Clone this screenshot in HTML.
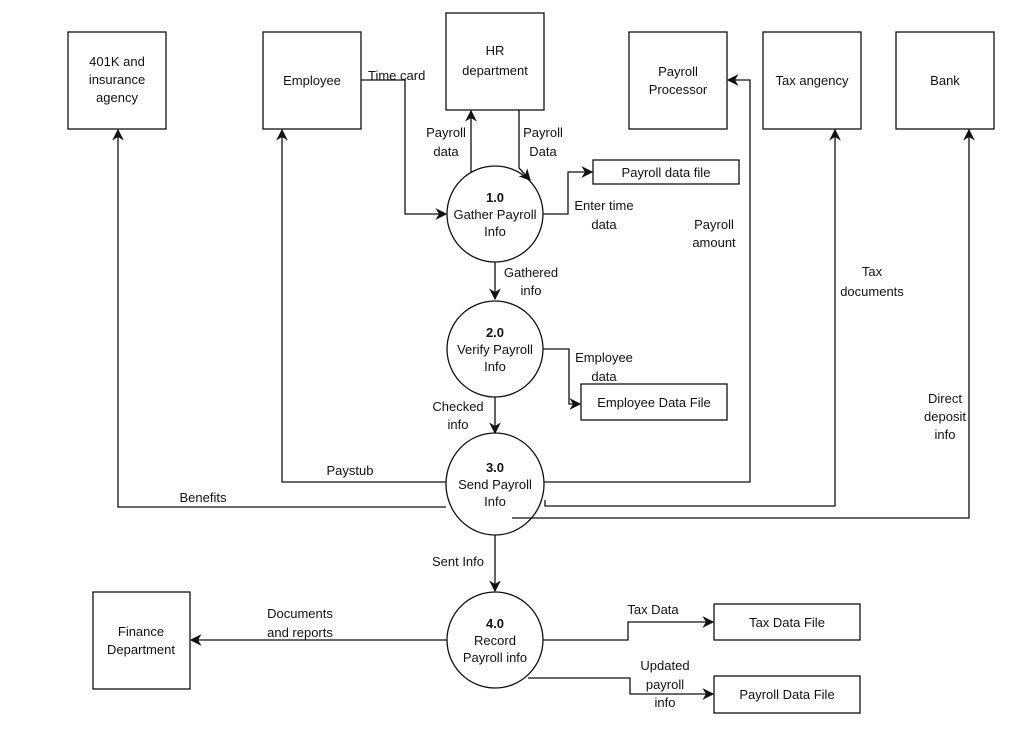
<!DOCTYPE html>
<html><head><style>
body{margin:0;background:#fff}
svg text{font-family:"Liberation Sans",sans-serif;font-size:13px;fill:#111}
</style></head><body>
<svg width="1021" height="740" viewBox="0 0 1021 740" xmlns="http://www.w3.org/2000/svg">
<defs><marker id="a" viewBox="0 0 10 10" refX="9" refY="5" markerWidth="9" markerHeight="9" orient="auto"><path d="M0,0 L10,5 L0,10 L3,5 z" fill="#111"/></marker></defs>
<g fill="#fff" stroke="#111" stroke-width="1.3">
<rect x="68" y="32" width="98" height="97"/>
<rect x="263" y="32" width="98" height="97"/>
<rect x="446" y="13" width="98" height="97"/>
<rect x="629" y="32" width="98" height="97"/>
<rect x="763" y="32" width="98" height="97"/>
<rect x="896" y="32" width="98" height="97"/>
<rect x="93" y="592" width="97" height="97"/>
<rect x="593" y="160" width="146" height="24"/>
<rect x="581" y="384" width="146" height="36"/>
<rect x="714" y="604" width="146" height="36"/>
<rect x="714" y="676" width="146" height="37"/>
<circle cx="495" cy="214" r="48"/>
<circle cx="495" cy="349" r="48"/>
<ellipse cx="495" cy="484" rx="49" ry="51"/>
<circle cx="495" cy="640" r="48"/>
</g>
<g fill="none" stroke="#111" stroke-width="1.3">
<path d="M361,80 H405 V214 H446" marker-end="url(#a)"/>
<path d="M471,172 V111" marker-end="url(#a)"/>
<path d="M519,110 V168 L530,180" marker-end="url(#a)"/>
<path d="M543,214 H568 V172 H592" marker-end="url(#a)"/>
<path d="M495,262 V299" marker-end="url(#a)"/>
<path d="M543,349 H569 V404 H580" marker-end="url(#a)"/>
<path d="M495,397 V433" marker-end="url(#a)"/>
<path d="M446,482 H282 V130" marker-end="url(#a)"/>
<path d="M446,507 H118 V130" marker-end="url(#a)"/>
<path d="M544,482 H750 V80 H728" marker-end="url(#a)"/>
<path d="M545,500 V506 H835 V130" marker-end="url(#a)"/>
<path d="M512,518 H969 V130" marker-end="url(#a)"/>
<path d="M495,535 V591" marker-end="url(#a)"/>
<path d="M447,640 H191" marker-end="url(#a)"/>
<path d="M543,640 H628 V622 H713" marker-end="url(#a)"/>
<path d="M528,678 H630 V694 H713" marker-end="url(#a)"/>
</g>
<g text-anchor="middle">
<text x="117" y="66">401K and</text><text x="117" y="84">insurance</text><text x="117" y="102">agency</text>
<text x="312" y="85">Employee</text>
<text x="495" y="55">HR</text><text x="495" y="75">department</text>
<text x="678" y="76">Payroll</text><text x="678" y="94">Processor</text>
<text x="812" y="85">Tax angency</text>
<text x="945" y="85">Bank</text>
<text x="141" y="636">Finance</text><text x="141" y="654">Department</text>
<text x="666" y="177">Payroll data file</text>
<text x="654" y="407">Employee Data File</text>
<text x="787" y="627">Tax Data File</text>
<text x="787" y="699">Payroll Data File</text>
<text x="495" y="202" font-weight="bold">1.0</text><text x="495" y="219">Gather Payroll</text><text x="495" y="236">Info</text>
<text x="495" y="337" font-weight="bold">2.0</text><text x="495" y="354">Verify Payroll</text><text x="495" y="371">Info</text>
<text x="495" y="472" font-weight="bold">3.0</text><text x="495" y="489">Send Payroll</text><text x="495" y="506">Info</text>
<text x="495" y="628" font-weight="bold">4.0</text><text x="495" y="645">Record</text><text x="495" y="662">Payroll info</text>
<text x="446" y="137">Payroll</text><text x="446" y="156">data</text>
<text x="543" y="137">Payroll</text><text x="543" y="156">Data</text>
<text x="604" y="210">Enter time</text><text x="604" y="229">data</text>
<text x="714" y="229">Payroll</text><text x="714" y="247">amount</text>
<text x="531" y="277">Gathered</text><text x="531" y="295">info</text>
<text x="872" y="276">Tax</text><text x="872" y="296">documents</text>
<text x="604" y="362">Employee</text><text x="604" y="381">data</text>
<text x="458" y="411">Checked</text><text x="458" y="429">info</text>
<text x="945" y="403">Direct</text><text x="945" y="421">deposit</text><text x="945" y="439">info</text>
<text x="350" y="475">Paystub</text>
<text x="203" y="502">Benefits</text>
<text x="458" y="566">Sent Info</text>
<text x="300" y="618">Documents</text><text x="300" y="637">and reports</text>
<text x="653" y="614">Tax Data</text>
<text x="665" y="670">Updated</text><text x="665" y="689">payroll</text><text x="665" y="707">info</text>
</g>
<text x="368" y="80" font-size="12">Time card</text>
</svg>
</body></html>
